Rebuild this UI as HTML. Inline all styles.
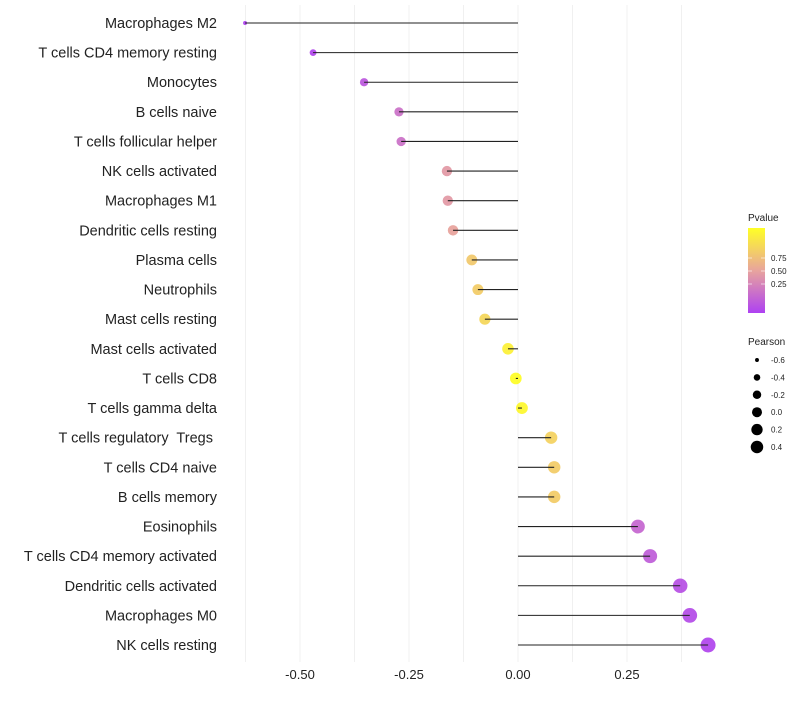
<!DOCTYPE html>
<html><head><meta charset="utf-8"><style>
body{margin:0;background:#fff;}
svg text{font-family:"Liberation Sans",sans-serif;white-space:pre;}
</style></head><body>
<svg id="chart" width="800" height="700"></svg>
<script>
const categories=["Macrophages M2","T cells CD4 memory resting","Monocytes","B cells naive","T cells follicular helper","NK cells activated","Macrophages M1","Dendritic cells resting","Plasma cells","Neutrophils","Mast cells resting","Mast cells activated","T cells CD8","T cells gamma delta","T cells regulatory  Tregs ","T cells CD4 naive","B cells memory","Eosinophils","T cells CD4 memory activated","Dendritic cells activated","Macrophages M0","NK cells resting"];
const pearson=[-0.626,-0.470,-0.353,-0.273,-0.268,-0.163,-0.161,-0.149,-0.106,-0.092,-0.076,-0.023,-0.005,0.009,0.076,0.083,0.083,0.275,0.303,0.372,0.394,0.436];
const pvalues=[0.01,0.03,0.12,0.25,0.25,0.45,0.45,0.5,0.7,0.72,0.78,0.92,0.99,0.96,0.75,0.72,0.72,0.2,0.15,0.08,0.06,0.03];
const xTicks=[-0.5,-0.25,0,0.25];
const xTickLabels=["-0.50","-0.25","0.00","0.25"];
const colorTicks=[0.75,0.5,0.25];
const sizeLegend=[-0.6,-0.4,-0.2,0.0,0.2,0.4];

const NS="http://www.w3.org/2000/svg";
const svg=document.getElementById('chart');
function mk(t,a,p){const e=document.createElementNS(NS,t);for(const k in a)e.setAttribute(k,a[k]);(p||svg).appendChild(e);return e;}
const x=v=>518+v*436;
const y=i=>23+i*(645-23)/(categories.length-1);
const sMin=-0.626,sMax=0.436;
const r=v=>Math.sqrt(4+Math.max(0,(v-sMin)/(sMax-sMin))*(56-4));
function lerp(a,b,t){return a.map((c,i)=>Math.round(c+(b[i]-c)*t));}
function col(p){const s=[[160,32,240],[228,148,140],[255,255,0]];let c=p<0.5?lerp(s[0],s[1],p/0.5):lerp(s[1],s[2],(p-0.5)/0.5);return `rgb(${c})`;}

// grid
for(let v=-0.625;v<=0.4;v+=0.125){
  const g=mk('line',{x1:x(v),x2:x(v),y1:5,y2:662,stroke:'#f0f0f0','stroke-width':1});
  
  
}
xTicks.forEach((v,i)=>{
  const t=mk('text',{x:x(v),y:679,'text-anchor':'middle','font-size':13,fill:'#222'});t.textContent=xTickLabels[i];
  
  
});
categories.forEach((c,i)=>{
  const t=mk('text',{x:217,y:y(i)+5,'text-anchor':'end','font-size':14.5,fill:'#222'});t.textContent=c;
  
  
  const d=mk('circle',{cx:x(pearson[i]),cy:y(i),r:r(pearson[i]),fill:col(pvalues[i]),'fill-opacity':0.8});
  
  
  const l=mk('line',{x1:x(0),x2:x(pearson[i]),y1:y(i),y2:y(i),stroke:'#222','stroke-width':1.1});
  
  
});
// color legend
const defs=mk('defs',{});
const lg=mk('linearGradient',{id:'pg',x1:0,y1:1,x2:0,y2:0},defs);
[0,0.25,0.5,0.75,1].forEach(o=>mk('stop',{offset:o,'stop-color':col(o)},lg));
let t=mk('text',{x:748,y:221,'font-size':10,fill:'#222'});t.textContent='Pvalue';


const bar=mk('rect',{x:748,y:228,width:17,height:85,fill:'url(#pg)','fill-opacity':0.85});


colorTicks.forEach(v=>{
  const yy=271+(0.5-v)*52;
  mk('line',{x1:748,x2:752,y1:yy,y2:yy,stroke:'#fff','stroke-width':0.6});
  mk('line',{x1:761,x2:765,y1:yy,y2:yy,stroke:'#fff','stroke-width':0.6});
  const tt=mk('text',{x:771,y:yy+3,'font-size':8,fill:'#222'});tt.textContent=v.toFixed(2);
  
  
});
t=mk('text',{x:748,y:345,'font-size':10,fill:'#222'});t.textContent='Pearson';


sizeLegend.forEach((v,i)=>{
  const yy=360+i*17.4;
  const c=mk('circle',{cx:757,cy:yy,r:r(v)*0.85,fill:'#000'});
  
  
  const tt=mk('text',{x:771,y:yy+3,'font-size':8,fill:'#222'});tt.textContent=v.toFixed(1);
  
  
});
</script>
</body></html>
